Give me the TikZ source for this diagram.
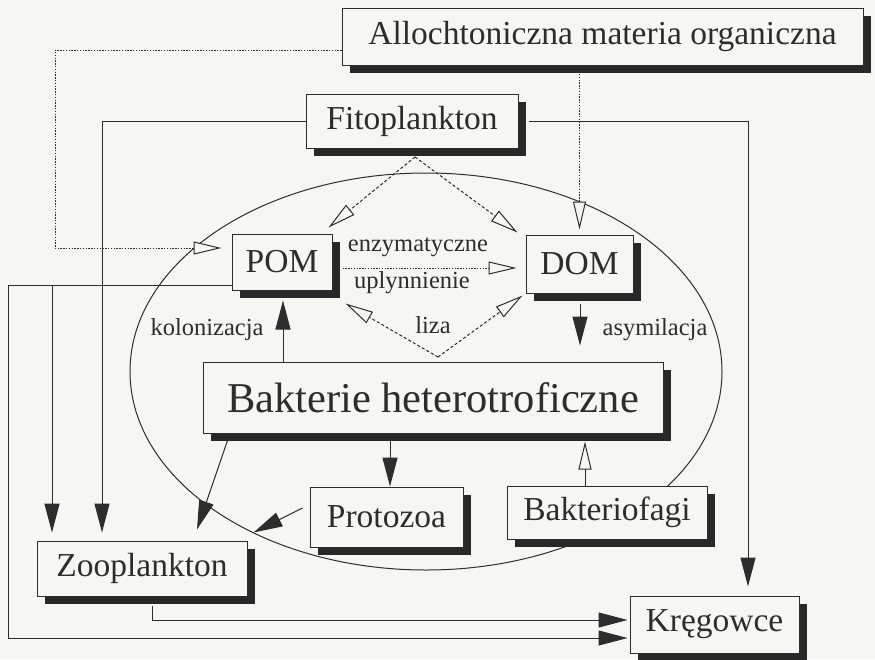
\documentclass[tikz,border=0pt]{standalone}
\usepackage{fontspec}
\setmainfont{Liberation Serif}
\usetikzlibrary{arrows.meta,shadows,calc}
\definecolor{paper}{RGB}{246,246,243}
\definecolor{ink}{RGB}{45,45,45}
\begin{document}
\begin{tikzpicture}[x=1pt,y=-1pt,
  box/.style={draw=ink,line width=1pt,fill=paper,inner sep=0pt,text=ink,
    font=\fontsize{33.5}{36}\selectfont,
    drop shadow={shadow xshift=8pt,shadow yshift=-8pt,fill=ink!90!black,opacity=1}},
  lbl/.style={text=ink,inner sep=0pt,font=\fontsize{24.5}{27}\selectfont},
  conn/.style={draw=ink,line width=1pt},
  fhead/.style={conn,-{Triangle[length=29pt,width=15pt]}},
  ohead/.style={conn,-{Triangle[open,length=28pt,width=13pt,fill=paper]}},
  dotl/.style={dash pattern=on 1.4pt off 1.4pt},
  dashl/.style={dash pattern=on 3pt off 2.2pt}]
\fill[paper] (0,0) rectangle (875,659);
\useasboundingbox (0,0) rectangle (875,659);
% ellipse
\draw[conn] (426,371.5) ellipse [x radius=296pt, y radius=198.5pt];
% boxes
\node[box,minimum width=521pt,minimum height=57pt] (allo) at (602.5,36.5) {Allochtoniczna materia organiczna};
\node[box,minimum width=212pt,minimum height=54pt] (fito) at (412,121) {Fitoplankton};
\node[box,minimum width=100pt,minimum height=56pt] (pom) at (282,262) {POM};
\node[box,minimum width=107pt,minimum height=58pt] (dom) at (579.5,264) {DOM};
\node[box,minimum width=460pt,minimum height=71pt,font=\fontsize{42.5}{45}\selectfont] (bakt) at (433,397.5) {Bakterie heterotroficzne};
\node[box,minimum width=153pt,minimum height=60pt] (proto) at (386.5,517) {Protozoa};
\node[box,minimum width=200pt,minimum height=53pt] (bfag) at (607,512.5) {Bakteriofagi};
\node[box,minimum width=210pt,minimum height=55pt] (zoo) at (142,568.5) {Zooplankton};
\node[box,minimum width=169pt,minimum height=57pt] (kreg) at (714.5,624.5) {Kręgowce};
% labels
\node[lbl] (enz) at (418,247) {enzymatyczne};
\node[lbl] (upl) at (412,283) {uplynnienie};
\node[lbl] (liza) at (433,325) {liza};
\node[lbl] (kol) at (207,330) {kolonizacja};
\node[lbl] (asy) at (655,330) {asymilacja};
% coordinates
\coordinate (acorner1) at (55,50);
\coordinate (acorner2) at (55,248);
\coordinate (fsp) at (415,157);
\coordinate (lz) at (438,357);
\coordinate (pl) at (8,285);
\coordinate (pb) at (52,285);
% Allochtoniczna dotted
\draw[ohead,dotl] ([yshift=-13.5pt]allo.west) -- (acorner1) -- (acorner2) -- ($(pom.west)+(-10,-14)$);
\draw[ohead,dotl] (allo.south -| dom.north) -- ($(dom.north)+(0,-5)$);
% Fitoplankton dashed
\draw[ohead,dashl] (fsp) -- ($(pom.north east)+(-4,-6)$);
\draw[ohead,dashl] (fsp) -- ($(dom.north west)+(-8,-2)$);
% enzymatyczne uplynnienie
\draw[ohead,dotl] ($(pom.east)+(10,6)$) -- ($(dom.west)+(-9,4)$);
% liza
\draw[ohead,dashl] (lz) -- ($(pom.south east)+(13,13)$);
\draw[ohead,dashl] (lz) -- ($(dom.south west)+(-3,2)$);
% kolonizacja, asymilacja
\draw[fhead] ($(bakt.north -| pom.south)+(1,0)$) -- ($(pom.south)+(1,10)$);
\draw[fhead] ($(dom.south)+(0.5,10)$) -- ($(bakt.north -| dom.south)+(0.5,-16)$);
% Bakterie outputs
\draw[fhead] ($(bakt.south -| proto.north)+(3.5,7)$) -- (proto.north -| 390,0);
\draw[ohead] ($(bfag.north)+(-22,0)$) -- ($(bakt.south -| bfag.north)+(-22,8)$);
\draw[fhead] ($(bakt.south west)+(25,7)$) -- ($(zoo.north)+(55,-11)$);
\draw[fhead] ($(proto.west)+(-7,-9)$) -- ($(zoo.north east)+(6,-8)$);
% Fitoplankton solid
\draw[fhead] (fito.west) -| ($(zoo.north)+(-40,-8)$);
\draw[fhead] ($(fito.east)+(10,0)$) -| ($(kreg.north)+(33.5,-9)$);
% POM to Zooplankton and Kregowce
\draw[conn] ($(pom.west)+(0,23)$) -- (pl);
\draw[fhead] (pl) |- ($(kreg.west)+(-2,13.5)$);
\draw[fhead] (pb) -- ($(zoo.north)+(-90,-8)$);
% Zooplankton to Kregowce
\draw[fhead] ($(zoo.south)+(10,9)$) |- ($(kreg.west)+(-2,-4.5)$);
\end{tikzpicture}
\end{document}
